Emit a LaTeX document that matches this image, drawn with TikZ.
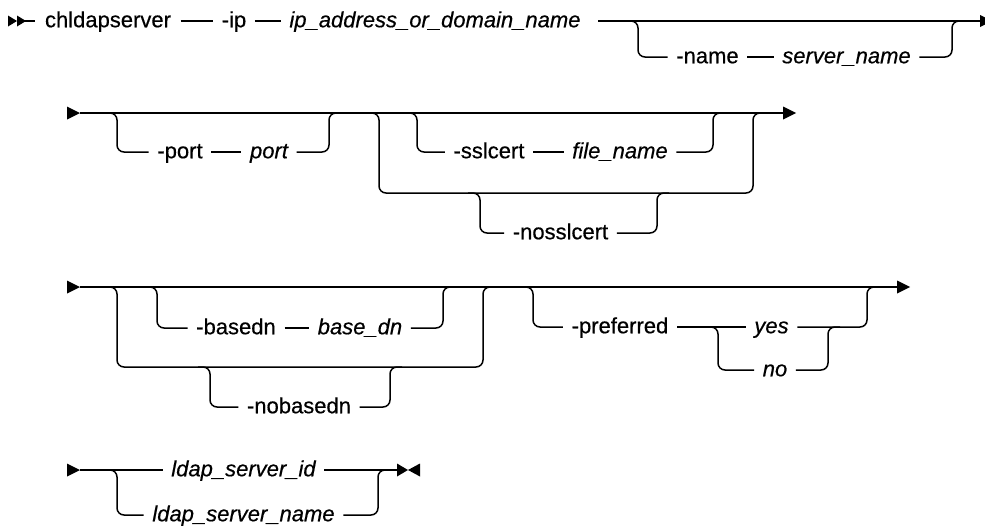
\documentclass[tikz,border=0pt]{standalone}
\usepackage{fontspec}
\setmainfont{Liberation Sans}[FakeBold=0.5]
\newfontfamily\diagfont{Liberation Sans}[FakeBold=0.5,ItalicFeatures={FakeBold=0.5}]
\begin{document}
\begin{tikzpicture}[x=1pt,y=-1pt, line width=1.5pt,
 t/.style={inner xsep=8pt, inner ysep=0pt, text height=12.5pt, text depth=0pt, font=\diagfont\fontsize{22}{26}\selectfont, anchor=center},
 v/.style={t, font=\diagfont\fontsize{22}{26}\selectfont\itshape},
 rc/.style={rounded corners=7pt}]
\useasboundingbox (0,0) rectangle (985,525);
% ---------- row 1
\coordinate (s1) at (8,21);
\fill (8,15.5) -- (17,21) -- (8,26.5) -- cycle;
\fill (17,15.5) -- (26,21) -- (17,26.5) -- cycle;
\coordinate (s1e) at (25,21);
\node[t, inner xsep=9pt] (cmd) at (108,21) {chldapserver};
\node[t] (ip) at (234,21) {-ip};
\node[v] (ipa) at (435,21) {ip\_address\_or\_domain\_name};
\draw (s1e) -- (cmd.west);
\draw (cmd.east) -- (ip.west);
\draw (ip.east) -- (ipa.west);
\coordinate (j1) at (598,21);
\coordinate (e1) at (980,21);
\draw (j1) -- (e1);
\fill (980,15) -- (992,21) -- (980,27) -- cycle;
\node[t] (name) at (707.5,57) {-name};
\node[v] (sname) at (846.5,57) {server\_name};
\draw[rc] (j1) -- (638,21) |- (name.west);
\draw (name.east) -- (sname.west);
\draw[rc] (sname.east) -| (952,21) -- (965,21);
% ---------- row 2
\fill (67,106.5) -- (80,113) -- (67,119.5) -- cycle;
\coordinate (s2) at (80,113);
\coordinate (e2) at (783,113);
\draw (s2) -- (e2);
\fill (783,106.5) -- (796,113) -- (783,119.5) -- cycle;
\node[t] (port) at (180,152) {-port};
\node[v] (portv) at (269,152) {port};
\draw[rc] (100,113) -- (117,113) |- (port.west);
\draw (port.east) -- (portv.west);
\draw[rc] (portv.east) -| (329,113) -- (340,113);
\draw[rc] (365,113) -- (379,113) -- (379,193) -- (753,193) -- (753,113) -- (767,113);
\node[t] (ssl) at (489,152) {-sslcert};
\node[v] (fn) at (620,152) {file\_name};
\draw[rc] (405,113) -- (417,113) |- (ssl.west);
\draw (ssl.east) -- (fn.west);
\draw[rc] (fn.east) -| (713,113) -- (725,113);
\node[t] (nossl) at (560.5,233) {-nosslcert};
\draw[rc] (468,193) -- (480,193) |- (nossl.west);
\draw[rc] (nossl.east) -| (657,193) -- (669,193);
% ---------- row 3
\fill (67,280.5) -- (80,287) -- (67,293.5) -- cycle;
\coordinate (s3) at (80,287);
\coordinate (e3) at (897,287);
\draw (s3) -- (e3);
\fill (897,280.5) -- (910,287) -- (897,293.5) -- cycle;
\draw[rc] (105,287) -- (117,287) -- (117,367) -- (483,367) -- (483,287) -- (495,287);
\node[t] (bdn) at (236,328) {-basedn};
\node[v] (bdnv) at (360,328) {base\_dn};
\draw[rc] (145,287) -- (157,287) |- (bdn.west);
\draw (bdn.east) -- (bdnv.west);
\draw[rc] (bdnv.east) -| (443,287) -- (455,287);
\node[t] (nobdn) at (299,407) {-nobasedn};
\draw[rc] (198,367) -- (210,367) |- (nobdn.west);
\draw[rc] (nobdn.east) -| (390,367) -- (402,367);
\node[t] (pref) at (620,327) {-preferred};
\node[v] (yes) at (771.5,327) {yes};
\node[v] (no) at (775,370) {no};
\draw[rc] (521,287) -- (533,287) |- (pref.west);
\draw (pref.east) -- (yes.west);
\draw[rc] (706,327) -- (718,327) |- (no.west);
\draw[rc] (no.east) -| (828,327) -- (840,327);
\draw[rc] (yes.east) -| (867,287) -- (879,287);
% ---------- row 4
\fill (67,463.5) -- (80,470) -- (67,476.5) -- cycle;
\coordinate (s4) at (80,470);
\coordinate (e4) at (397,470);
\node[v] (lid) at (243.5,470) {ldap\_server\_id};
\node[v] (lname) at (243.5,515) {ldap\_server\_name};
\draw (s4) -- (lid.west);
\draw (lid.east) -- (e4);
\fill (397,463.5) -- (408,470) -- (397,476.5) -- cycle;
\fill (420,463.5) -- (408,470) -- (420,476.5) -- cycle;
\draw[rc] (105,470) -- (117,470) |- (lname.west);
\draw[rc] (lname.east) -| (378,470) -- (390,470);
\end{tikzpicture}
\end{document}
